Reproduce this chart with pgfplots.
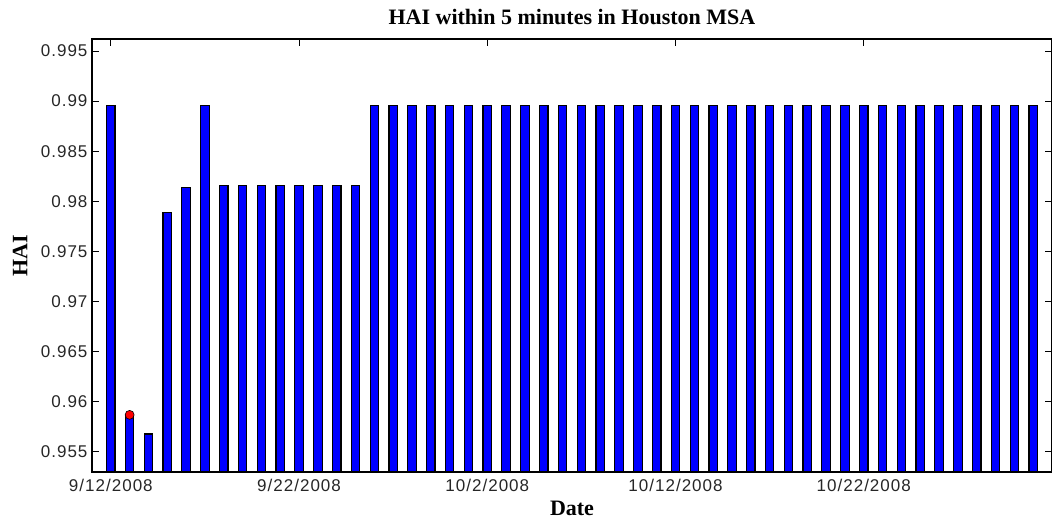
\documentclass[border=0pt]{standalone}
\usepackage{fontspec}
\setmainfont{Liberation Serif}
\newfontfamily\ticksans[LetterSpace=6]{Liberation Sans}
\usepackage{pgfplots}
\pgfplotsset{compat=1.18}
\begin{document}
\begin{tikzpicture}
\begin{axis}[
  at={(0,0)}, anchor=south west,
  scale only axis, width=960pt, height=433pt,
  xmin=-1, xmax=50, ymin=0.953, ymax=0.9962,
  xtick={0,10,20,30,40},
  xticklabels={9/12/2008,9/22/2008,10/2/2008,10/12/2008,10/22/2008},
  ytick={0.955,0.96,0.965,0.97,0.975,0.98,0.985,0.99,0.995},
  yticklabels={0.955,0.96,0.965,0.97,0.975,0.98,0.985,0.99,0.995},
  tick align=inside, major tick length=7pt,
  tick style={black, line width=1pt},
  axis line style={line width=1.2pt},
  tick label style={font=\ticksans\fontsize{17}{17}\selectfont, text=black!85},
  xticklabel style={yshift=-4pt},
  yticklabel style={xshift=-1pt},
  title={HAI within 5 minutes in Houston MSA},
  title style={font=\fontsize{22}{22}\selectfont\bfseries, at={(axis description cs:0.5,1.037)}, anchor=center},
  xlabel={Date},
  xlabel style={font=\fontsize{22}{22}\selectfont\bfseries, at={(axis description cs:0.5,-0.083)}, anchor=center},
  ylabel={HAI},
  ylabel style={font=\fontsize{22}{22}\selectfont\bfseries, at={(axis description cs:-0.075,0.5)}, anchor=center},
]
\addplot[ybar, bar width=0.45, fill=blue, draw=black, line width=1.2pt] coordinates {
(0,0.9896) (1,0.9587) (2,0.9568) (3,0.97885) (4,0.9814) (5,0.9896)
(6,0.9816) (7,0.9816) (8,0.9816) (9,0.9816) (10,0.9816) (11,0.9816) (12,0.9816) (13,0.9816)
(14,0.9896) (15,0.9896) (16,0.9896) (17,0.9896) (18,0.9896) (19,0.9896) (20,0.9896) (21,0.9896)
(22,0.9896) (23,0.9896) (24,0.9896) (25,0.9896) (26,0.9896) (27,0.9896) (28,0.9896) (29,0.9896)
(30,0.9896) (31,0.9896) (32,0.9896) (33,0.9896) (34,0.9896) (35,0.9896) (36,0.9896) (37,0.9896)
(38,0.9896) (39,0.9896) (40,0.9896) (41,0.9896) (42,0.9896) (43,0.9896) (44,0.9896) (45,0.9896)
(46,0.9896) (47,0.9896) (48,0.9896) (49,0.9896)
};
\addplot[only marks, mark=*, mark size=4.5pt, mark options={fill=red, draw=black, line width=0.6pt}] coordinates {(1,0.9587)};
\end{axis}
\pgfresetboundingbox
\useasboundingbox (-92pt,-50pt) rectangle (960pt,472pt);
\end{tikzpicture}
\end{document}
